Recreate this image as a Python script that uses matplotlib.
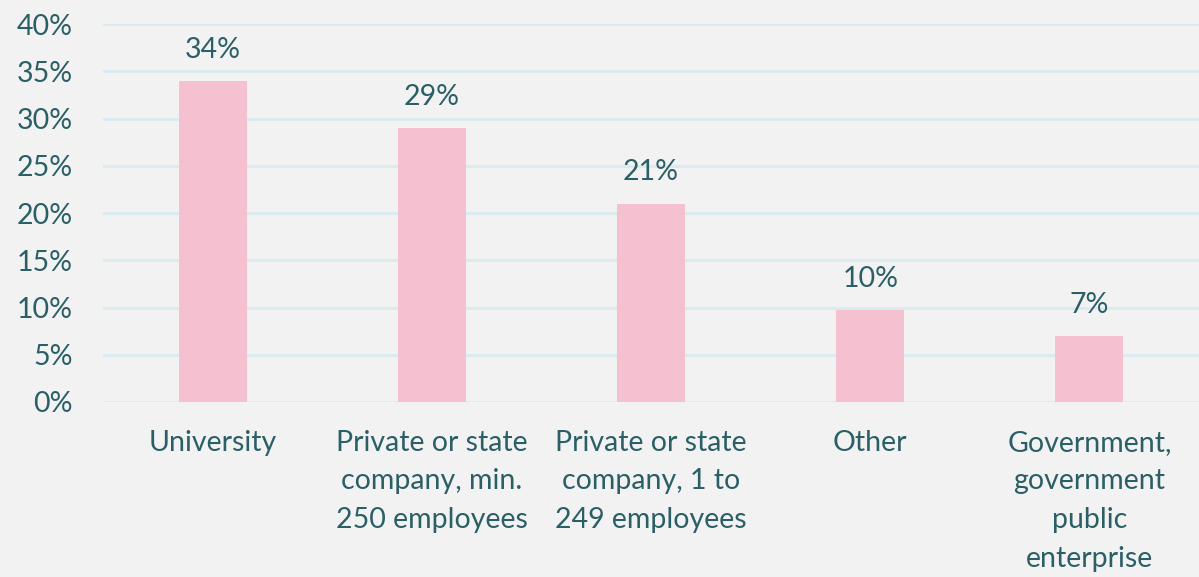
import numpy as np
import matplotlib
matplotlib.use("Agg")
import matplotlib.pyplot as plt

categories = ["University",
              "Private or state\ncompany, min.\n250 employees",
              "Private or state\ncompany, 1 to\n249 employees",
              "Other",
              "Government,\ngovernment\npublic\nenterprise"]
values = [34, 29, 21, 9.7, 7]
labels = ["34%", "29%", "21%", "10%", "7%"]
yticks = [0, 5, 10, 15, 20, 25, 30, 35, 40]

bg = "#F2F2F2"
txt = "#2B5F66"
bar_col = "#F5C1D0"
grid_col = "#DAEBF0"

plt.rcParams['font.family'] = ['Lato', 'DejaVu Sans']

fig = plt.figure(figsize=(11.99, 5.77), dpi=100, facecolor=bg)
ax = fig.add_axes([0.086, 0.3033, 0.914, 0.655], facecolor=bg)

x = np.arange(len(categories))
ax.bar(x, values, width=0.31, color=bar_col, zorder=3)
for xi, v, lab in zip(x, values, labels):
    ax.text(xi, v + 3.3, lab, ha="center", va="center", fontsize=20.5, color=txt)

ax.set_xlim(-0.5, len(categories) - 0.5)
ax.set_ylim(0, 40)
ax.set_yticks(yticks)
ax.set_yticklabels([f"{t}%" for t in yticks])
ax.set_xticks(x)
ax.set_xticklabels(categories, linespacing=1.6)
ax.tick_params(axis="both", length=0, labelsize=20.5, labelcolor=txt)
ax.tick_params(axis="x", pad=20)
ax.tick_params(axis="y", pad=22)
ax.grid(axis="y", color=grid_col, linewidth=2, zorder=0)
for s in ax.spines.values():
    s.set_visible(False)

fig.savefig("out.png", dpi=100, facecolor=bg)
